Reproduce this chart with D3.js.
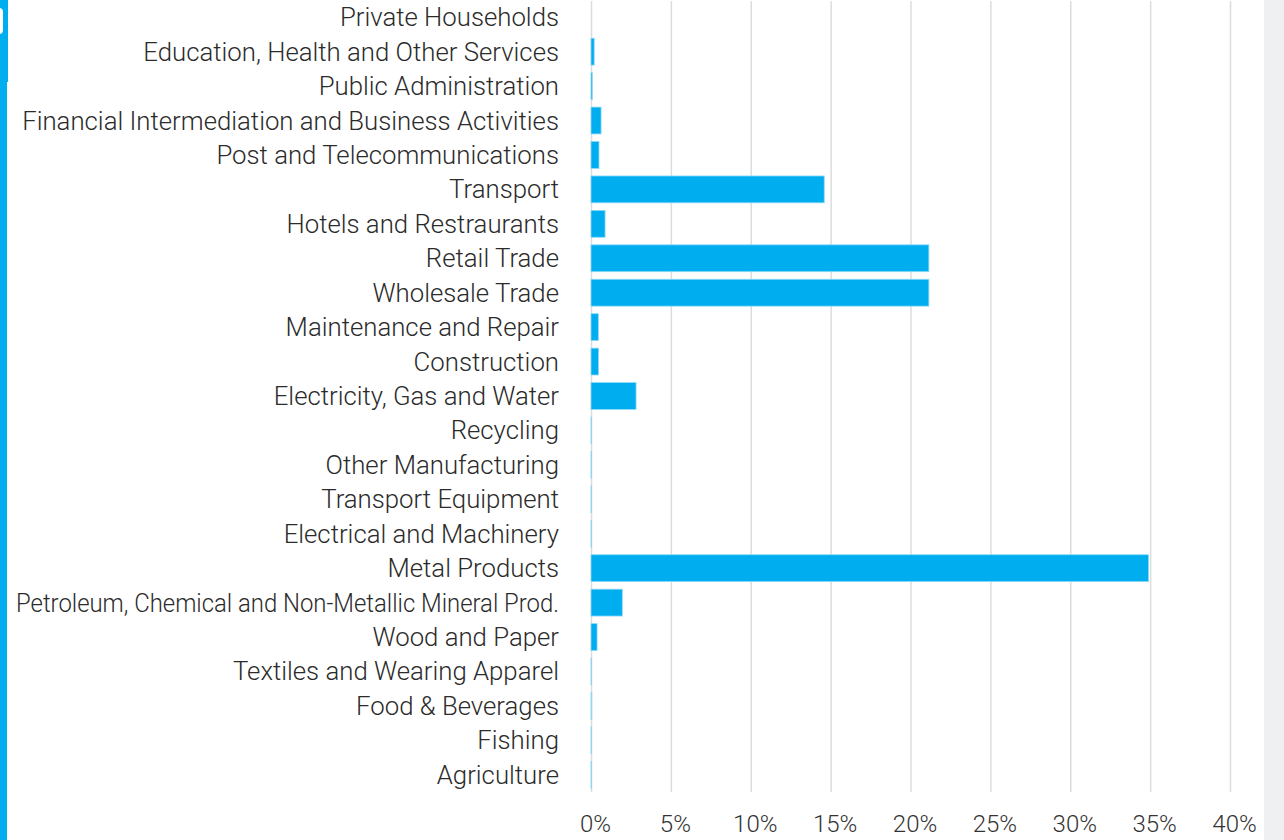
<!DOCTYPE html>
<html>
<head>
<meta charset="utf-8">
<script src="https://cdn.jsdelivr.net/npm/d3@7"></script>
<style>
  html, body { margin: 0; padding: 0; background: #ffffff; }
  svg { display: block; }
</style>
</head>
<body>
<svg id="chart" width="1284" height="840"></svg>
<script>
// Sectors, listed top to bottom
const sectors = [
  "Private Households",
  "Education, Health and Other Services",
  "Public Administration",
  "Financial Intermediation and Business Activities",
  "Post and Telecommunications",
  "Transport",
  "Hotels and Restraurants",
  "Retail Trade",
  "Wholesale Trade",
  "Maintenance and Repair",
  "Construction",
  "Electricity, Gas and Water",
  "Recycling",
  "Other Manufacturing",
  "Transport Equipment",
  "Electrical and Machinery",
  "Metal Products",
  "Petroleum, Chemical and Non-Metallic Mineral Prod.",
  "Wood and Paper",
  "Textiles and Wearing Apparel",
  "Food & Beverages",
  "Fishing",
  "Agriculture"
];

// Share of total, in percent
const shares = [
  0.0, 0.2, 0.08, 0.63, 0.5, 14.6, 0.88, 21.15, 21.15, 0.46, 0.47, 2.82,
  0.02, 0.02, 0.02, 0.02, 34.9, 1.96, 0.38, 0.02, 0.05, 0.02, 0.02
];

const tickValues = [0, 5, 10, 15, 20, 25, 30, 35, 40];

const svg = d3.select("#chart");
const W = 1284, H = 840;

// Side decorations
svg.append("rect").attr("x", 1264).attr("y", 0).attr("width", 20).attr("height", H).attr("fill", "#eff0f2");
svg.append("rect").attr("x", 0).attr("y", 0).attr("width", 7).attr("height", H).attr("fill", "#00aeef");
svg.append("rect").attr("x", 0).attr("y", 0).attr("width", 8).attr("height", 82).attr("fill", "#00aeef");
svg.append("rect").attr("x", -6).attr("y", 8).attr("width", 9).attr("height", 26).attr("rx", 4).attr("fill", "#ffffff");

const x = d3.scaleLinear().domain([0, 40]).range([591, 1230]);
const y = d3.scaleBand().domain(sectors).range([0, 792]).paddingInner(0.22).paddingOuter(0.11);

const font = "Roboto, 'Noto Sans', sans-serif";
const labelRight = 559;
const labelMaxWidth = 543;

// Vertical gridlines
svg.append("g")
  .selectAll("line")
  .data(tickValues)
  .join("line")
  .attr("x1", d => x(d) + 0.5).attr("x2", d => x(d) + 0.5)
  .attr("y1", 1).attr("y2", 792)
  .attr("stroke", "#dcdcdc").attr("stroke-width", 1.5);

// Bottom axis labels
const xAxis = d3.axisBottom(x)
  .tickValues(tickValues)
  .tickFormat(d => d + "%")
  .tickSize(0)
  .tickPadding(0);
const gx = svg.append("g").attr("transform", "translate(4,814)").call(xAxis);
gx.select(".domain").remove();
gx.selectAll("text")
  .attr("font-family", font)
  .attr("font-size", 24)
  .attr("font-weight", 300)
  .attr("fill", "#333333")
  .attr("dy", "0.75em");

// Bars
svg.append("g")
  .selectAll("rect")
  .data(sectors)
  .join("rect")
  .attr("x", x(0))
  .attr("y", d => y(d))
  .attr("width", (d, i) => Math.max(0, x(shares[i]) - x(0)))
  .attr("height", y.bandwidth())
  .attr("fill", "#00aeef")
  .attr("stroke", "#8fd8f6")
  .attr("stroke-width", 0.8);

// Category labels
const gy = svg.append("g")
  .selectAll("text")
  .data(sectors)
  .join("text")
  .attr("x", labelRight)
  .attr("y", d => y(d) + y.bandwidth() / 2)
  .attr("dy", "0.35em")
  .attr("text-anchor", "end")
  .attr("font-family", font)
  .attr("font-size", 24)
  .attr("font-weight", 300)
  .attr("fill", "#2b2b2b")
  .text(d => d);

// Size labels so the second-longest fills the margin; squeeze any that overflow
const widths = [];
gy.each(function () { widths.push(this.getComputedTextLength()); });
const sorted = widths.slice().sort((a, b) => b - a);
const fs = 24 * 537 / sorted[1];
gy.attr("font-size", fs);
gy.each(function () {
  if (this.getComputedTextLength() > labelMaxWidth) {
    d3.select(this)
      .attr("textLength", labelMaxWidth)
      .attr("lengthAdjust", "spacingAndGlyphs");
  }
});
</script>
</body>
</html>
